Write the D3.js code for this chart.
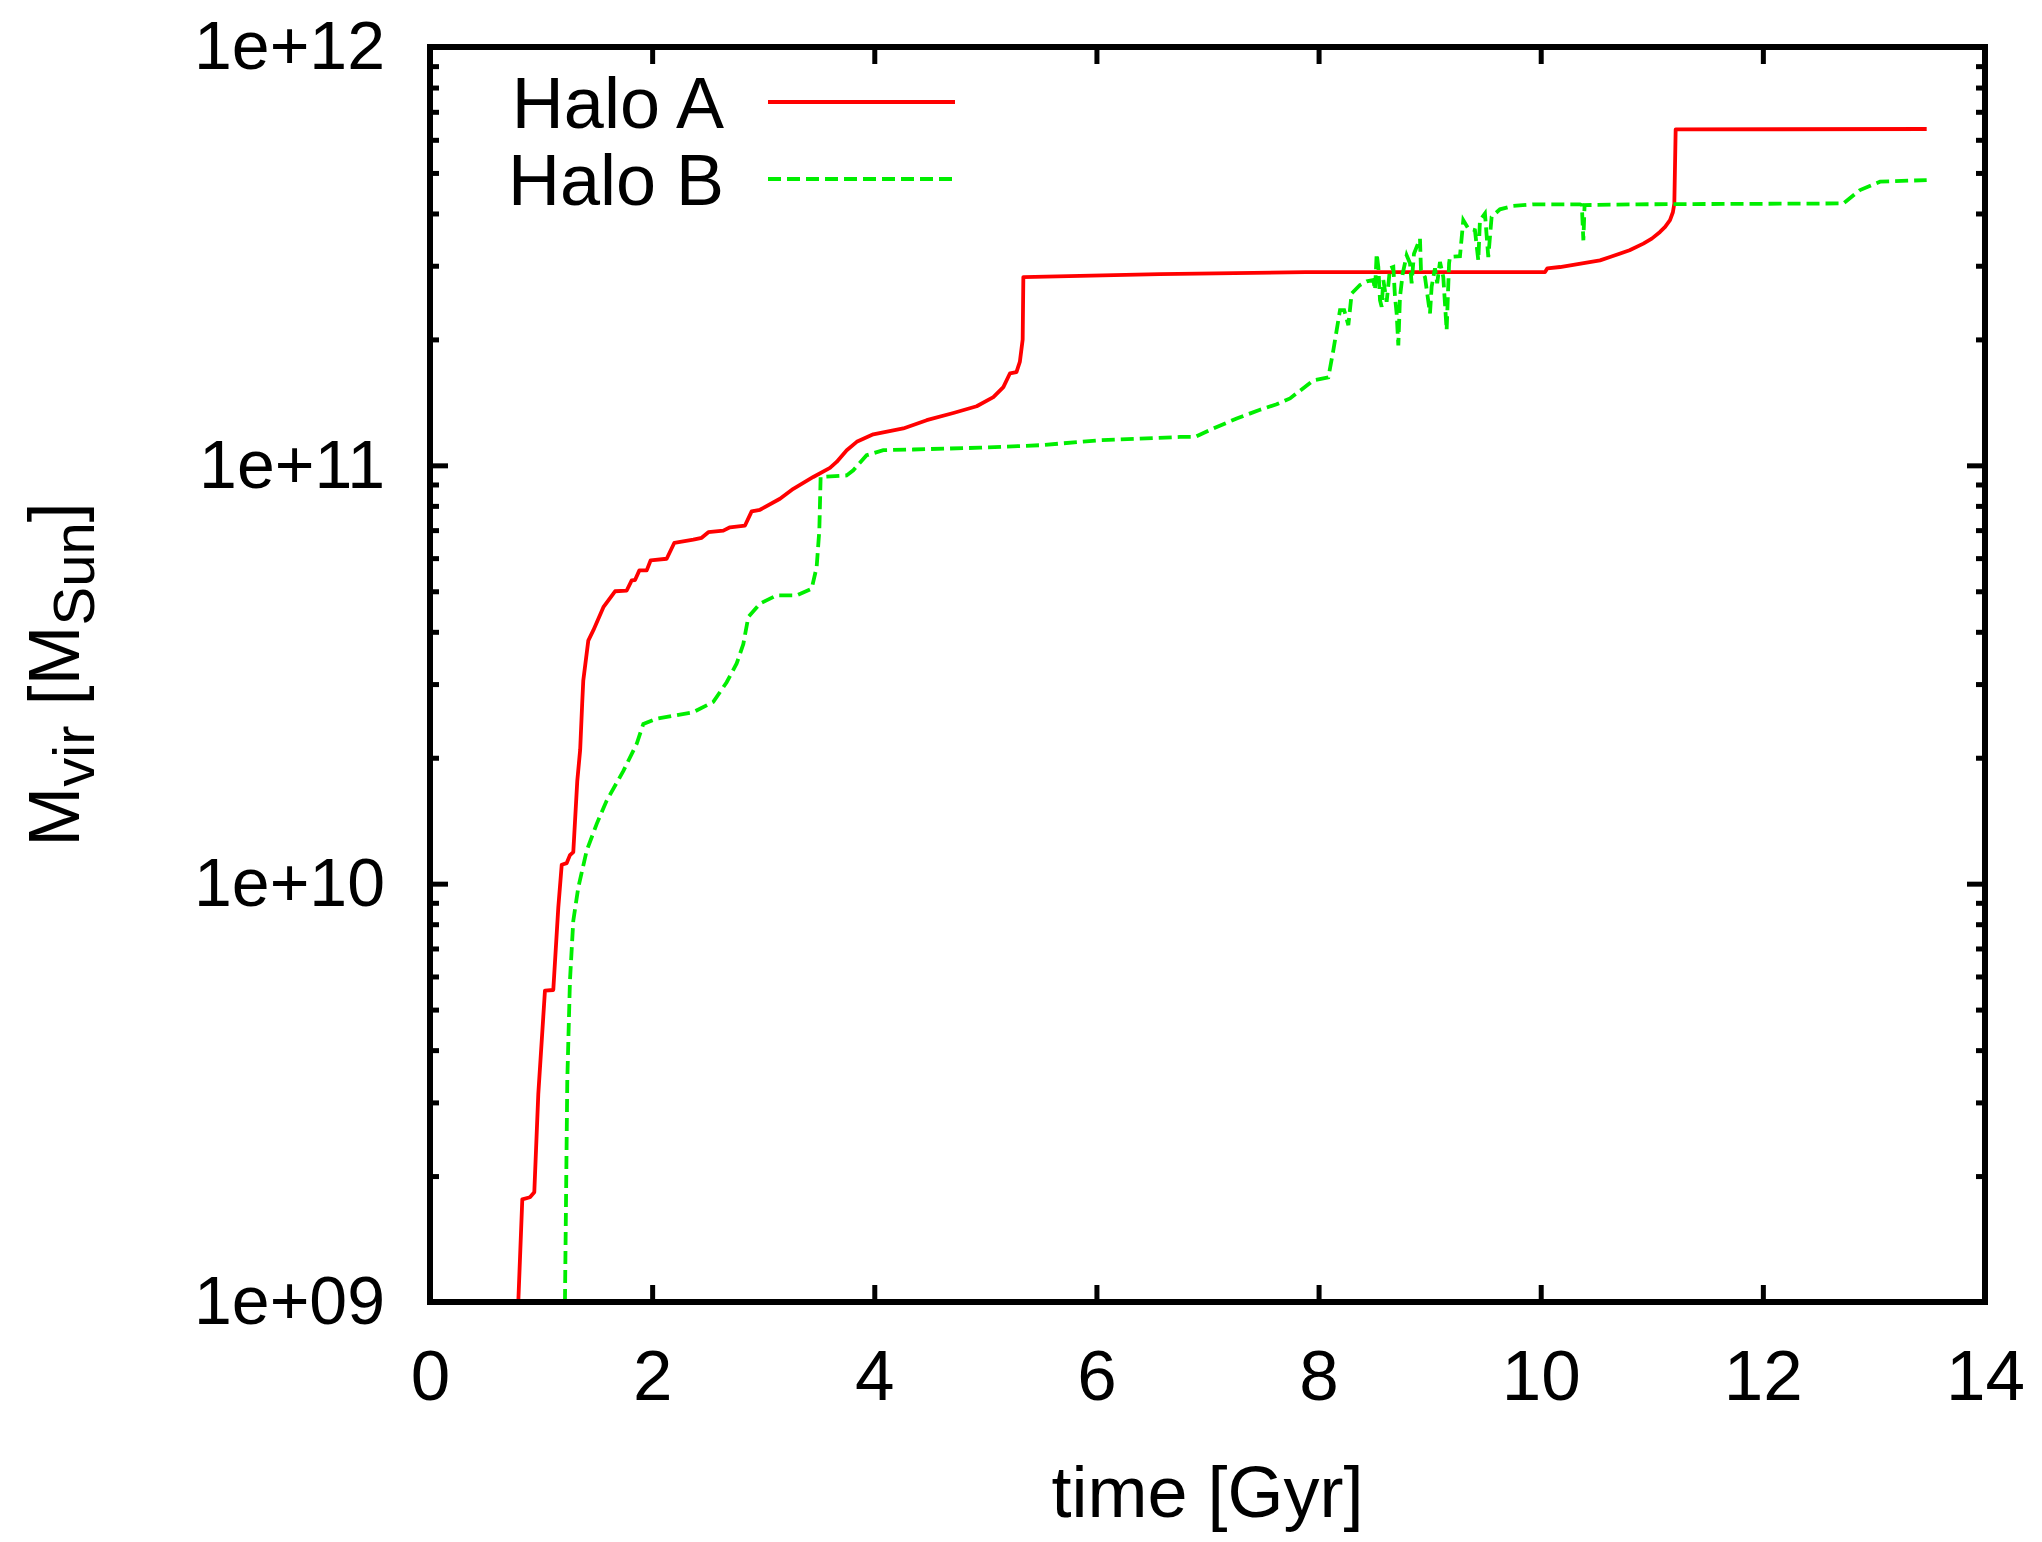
<!DOCTYPE html>
<html>
<head>
<meta charset="utf-8">
<script src="https://cdn.jsdelivr.net/npm/d3@7"></script>
<style>
  html, body { margin: 0; padding: 0; background: #fff; }
  text { font-family: "Liberation Sans", Arial, Helvetica, sans-serif; fill: #000; }
</style>
</head>
<body>
<div id="chart"></div>
<script>
// Halo A (red, solid): time [Gyr] and virial mass [Msun]
const haloATime = [0.795, 0.831, 0.900, 0.939, 0.975, 1.035, 1.110, 1.155, 1.186, 1.231, 1.260, 1.290,
  1.326, 1.352, 1.370, 1.380, 1.425, 1.470, 1.561, 1.666, 1.771, 1.816, 1.846, 1.885, 1.951, 1.987,
  2.131, 2.200, 2.371, 2.446, 2.506, 2.641, 2.701, 2.836, 2.896, 2.971, 3.151, 3.271, 3.451, 3.601,
  3.661, 3.752, 3.842, 3.991, 4.261, 4.472, 4.712, 4.922, 5.072, 5.162, 5.222, 5.280, 5.311, 5.336,
  5.342, 6.568, 7.883, 10.039, 10.060, 10.174, 10.400, 10.534, 10.624, 10.800, 10.924, 11.000,
  11.074, 11.120, 11.164, 11.190, 11.203, 11.215, 13.475];
const haloAMass = [1.00e9, 1.76e9, 1.78e9, 1.83e9, 3.14e9, 5.55e9, 5.57e9, 8.77e9, 1.11e10, 1.12e10,
  1.17e10, 1.19e10, 1.76e10, 2.09e10, 2.69e10, 3.06e10, 3.81e10, 4.03e10, 4.58e10, 5.00e10, 5.02e10,
  5.31e10, 5.32e10, 5.61e10, 5.61e10, 5.93e10, 5.98e10, 6.53e10, 6.64e10, 6.71e10, 6.92e10, 6.98e10,
  7.11e10, 7.18e10, 7.76e10, 7.83e10, 8.32e10, 8.79e10, 9.38e10, 9.86e10, 1.019e11, 1.087e11,
  1.138e11, 1.186e11, 1.225e11, 1.282e11, 1.334e11, 1.384e11, 1.455e11, 1.538e11, 1.66e11, 1.67e11,
  1.77e11, 2.00e11, 2.818e11, 2.864e11, 2.897e11, 2.897e11, 2.958e11, 2.979e11, 3.048e11, 3.090e11,
  3.148e11, 3.266e11, 3.388e11, 3.483e11, 3.614e11, 3.715e11, 3.855e11, 4.027e11, 4.227e11,
  6.353e11, 6.368e11];

// Halo B (green, dashed)
const haloBTime = [1.215, 1.236, 1.260, 1.290, 1.335, 1.411, 1.501, 1.591, 1.741, 1.861, 1.921, 2.041,
  2.371, 2.551, 2.671, 2.761, 2.821, 2.866, 2.971, 3.121, 3.301, 3.436, 3.481, 3.505, 3.517, 3.751,
  3.811, 3.931, 4.081, 4.351, 4.952, 5.492, 6.032, 6.752, 6.888, 7.053, 7.263, 7.473, 7.623, 7.743,
  7.953, 8.088, 8.133, 8.193, 8.230, 8.268, 8.298, 8.373, 8.433, 8.493, 8.508, 8.523, 8.538, 8.553,
  8.568, 8.583, 8.613, 8.643, 8.673, 8.688, 8.703, 8.718, 8.733, 8.758, 8.793, 8.823, 8.838, 8.859,
  8.913, 8.922, 8.958, 9.003, 9.018, 9.048, 9.068, 9.093, 9.123, 9.153, 9.175, 9.183, 9.273, 9.303,
  9.348, 9.408, 9.438, 9.453, 9.498, 9.528, 9.558, 9.633, 9.753, 9.933, 10.354, 10.370, 10.384,
  10.395, 10.870, 12.725, 12.875, 13.055, 13.475];
const haloBMass = [1.00e9, 3.38e9, 5.86e9, 8.15e9, 9.79e9, 1.20e10, 1.39e10, 1.58e10, 1.86e10, 2.16e10,
  2.41e10, 2.48e10, 2.57e10, 2.72e10, 3.03e10, 3.36e10, 3.74e10, 4.34e10, 4.67e10, 4.89e10, 4.89e10,
  5.07e10, 5.71e10, 6.98e10, 9.38e10, 9.46e10, 9.73e10, 1.057e11, 1.087e11, 1.091e11, 1.102e11,
  1.117e11, 1.148e11, 1.169e11, 1.169e11, 1.225e11, 1.294e11, 1.358e11, 1.400e11, 1.445e11, 1.596e11,
  1.622e11, 1.884e11, 2.350e11, 2.350e11, 2.163e11, 2.576e11, 2.698e11, 2.754e11, 2.773e11, 2.624e11,
  3.206e11, 2.979e11, 2.483e11, 2.393e11, 2.773e11, 2.460e11, 2.958e11, 2.979e11, 2.529e11, 2.307e11,
  1.936e11, 2.529e11, 2.877e11, 3.177e11, 3.041e11, 2.723e11, 3.206e11, 3.483e11, 2.931e11, 2.818e11,
  2.307e11, 2.673e11, 2.958e11, 2.723e11, 3.062e11, 2.818e11, 2.104e11, 3.041e11, 3.148e11, 3.162e11,
  3.855e11, 3.681e11, 3.648e11, 3.090e11, 3.855e11, 3.999e11, 3.148e11, 3.926e11, 4.093e11, 4.169e11,
  4.207e11, 4.207e11, 4.188e11, 3.451e11, 4.188e11, 4.207e11, 4.227e11, 4.550e11, 4.764e11, 4.808e11];

const xTicks = [0, 2, 4, 6, 8, 10, 12, 14];
const yTicks = [1e9, 1e10, 1e11, 1e12];
const yTickLabels = ["1e+09", "1e+10", "1e+11", "1e+12"];
const seriesNames = ["Halo A", "Halo B"];

const width = 2042, height = 1542;
const plotLeft = 430, plotRight = 1985, plotTop = 47, plotBottom = 1302;
const fontFamily = '"Liberation Sans", Arial, Helvetica, sans-serif';

const svg = d3.select("#chart").append("svg")
  .attr("width", width)
  .attr("height", height);

const x = d3.scaleLinear().domain([0, 14]).range([plotLeft, plotRight]);
const y = d3.scaleLog().domain([1e9, 1e12]).range([plotBottom, plotTop]);

// minor ticks on the log axis: 2..9 in every decade
const yMinor = [];
for (let d = 1e9; d < 1e12; d *= 10) {
  for (let k = 2; k <= 9; k++) yMinor.push(d * k);
}

function styleAxis(size) {
  return function (g) {
    g.select(".domain").remove();
    g.selectAll(".tick line").attr("stroke", "#000").attr("stroke-width", 5);
    g.selectAll(".tick text")
      .style("font-family", fontFamily)
      .style("font-size", size + "px")
      .attr("fill", "#000");
  };
}

// bottom axis
svg.append("g")
  .attr("transform", `translate(0,${plotBottom})`)
  .call(d3.axisBottom(x).tickValues(xTicks).tickSize(-17).tickPadding(48).tickFormat(d3.format("d")))
  .call(styleAxis(71));

// top mirror
svg.append("g")
  .attr("transform", `translate(0,${plotTop})`)
  .call(d3.axisTop(x).tickValues(xTicks).tickSize(-17).tickFormat(""))
  .call(styleAxis(71));

// left axis major + minor
svg.append("g")
  .attr("transform", `translate(${plotLeft},0)`)
  .call(d3.axisLeft(y).tickValues(yTicks).tickSize(-18).tickPadding(45)
    .tickFormat((d, i) => yTickLabels[i]))
  .call(styleAxis(68));
svg.append("g")
  .attr("transform", `translate(${plotLeft},0)`)
  .call(d3.axisLeft(y).tickValues(yMinor).tickSize(-9).tickFormat(""))
  .call(styleAxis(68));

// right mirror
svg.append("g")
  .attr("transform", `translate(${plotRight},0)`)
  .call(d3.axisRight(y).tickValues(yTicks).tickSize(-18).tickFormat(""))
  .call(styleAxis(68));
svg.append("g")
  .attr("transform", `translate(${plotRight},0)`)
  .call(d3.axisRight(y).tickValues(yMinor).tickSize(-9).tickFormat(""))
  .call(styleAxis(68));

// clip for the curves
svg.append("clipPath").attr("id", "plot-clip")
  .append("rect")
  .attr("x", plotLeft).attr("y", plotTop)
  .attr("width", plotRight - plotLeft).attr("height", plotBottom - plotTop);

const line = d3.line()
  .x(d => x(d[0]))
  .y(d => y(d[1]));

const haloA = haloATime.map((t, i) => [t, haloAMass[i]]);
const haloB = haloBTime.map((t, i) => [t, haloBMass[i]]);

const curves = svg.append("g").attr("clip-path", "url(#plot-clip)");

curves.append("path")
  .datum(haloA)
  .attr("fill", "none")
  .attr("stroke", "#ff0000")
  .attr("stroke-width", 3.8)
  .attr("stroke-linejoin", "round")
  .attr("d", line);

curves.append("path")
  .datum(haloB)
  .attr("fill", "none")
  .attr("stroke", "#00ee00")
  .attr("stroke-width", 3.8)
  .attr("stroke-dasharray", "13,6")
  .attr("d", line);

// frame
svg.append("rect")
  .attr("x", plotLeft).attr("y", plotTop)
  .attr("width", plotRight - plotLeft).attr("height", plotBottom - plotTop)
  .attr("fill", "none")
  .attr("stroke", "#000")
  .attr("stroke-width", 6);

// legend
const legend = svg.append("g");
const legendStyles = [
  { stroke: "#ff0000", dash: null },
  { stroke: "#00ee00", dash: "13,6" }
];
seriesNames.forEach((name, i) => {
  const cy = 102 + i * 77;
  legend.append("text")
    .attr("x", 724)
    .attr("y", cy + 26)
    .attr("text-anchor", "end")
    .style("font-size", "72px")
    .text(name);
  legend.append("line")
    .attr("x1", 768).attr("x2", 955)
    .attr("y1", cy).attr("y2", cy)
    .attr("stroke", legendStyles[i].stroke)
    .attr("stroke-width", 3.8)
    .attr("stroke-dasharray", legendStyles[i].dash);
});

// axis titles
svg.append("text")
  .attr("x", (plotLeft + plotRight) / 2)
  .attr("y", 1517)
  .attr("text-anchor", "middle")
  .style("font-size", "72px")
  .text("time [Gyr]");

const yTitle = svg.append("text")
  .attr("transform", `translate(79,${(plotTop + plotBottom) / 2}) rotate(-90)`)
  .attr("text-anchor", "middle")
  .style("font-size", "72px");
yTitle.append("tspan").text("M");
yTitle.append("tspan").attr("dy", 15).style("font-size", "58px").text("vir");
yTitle.append("tspan").attr("dy", -15).text(" [M");
yTitle.append("tspan").attr("dy", 15).style("font-size", "58px").text("Sun");
yTitle.append("tspan").attr("dy", -15).text("]");
</script>
</body>
</html>
